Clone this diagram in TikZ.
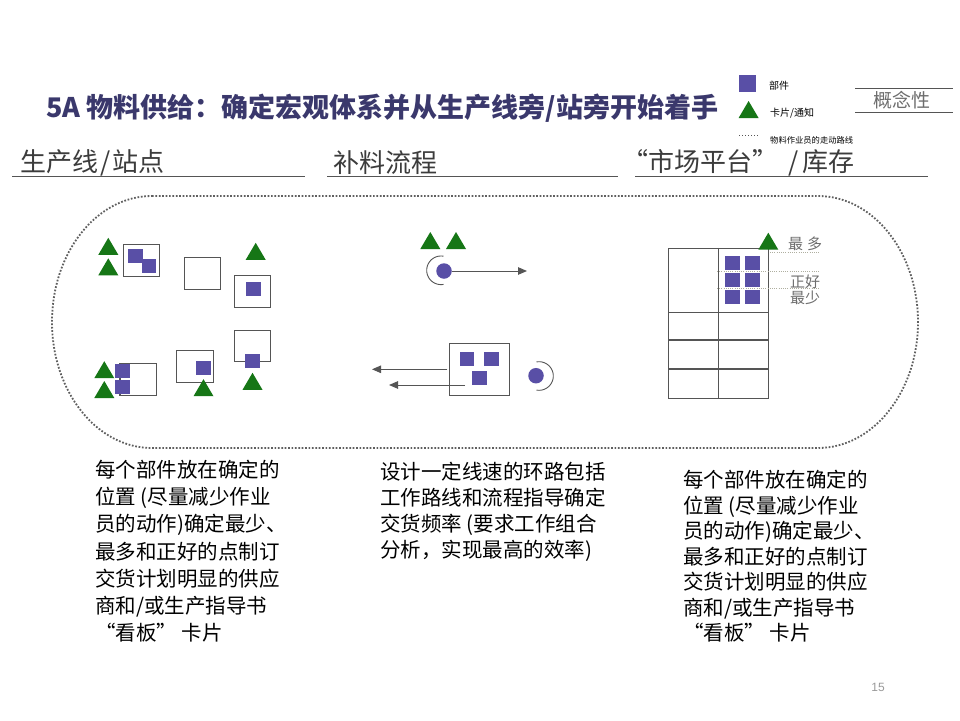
\documentclass[tikz,border=0pt]{standalone}
\usepackage{fontspec}
\setmainfont{Noto Sans CJK SC}
\newfontfamily\lsans{Liberation Sans}
\usetikzlibrary{arrows.meta}
\definecolor{partc}{RGB}{89,79,166}
\definecolor{tric}{RGB}{22,118,22}
\definecolor{linec}{RGB}{85,85,85}
\definecolor{titlec}{RGB}{58,56,108}
\definecolor{headc}{RGB}{60,60,60}
\definecolor{dotc}{RGB}{95,95,95}
\definecolor{guidec}{RGB}{175,175,160}
\definecolor{softc}{RGB}{110,110,110}
\begin{document}
\begin{tikzpicture}[x=1pt,y=-1pt,
  part/.style={fill=partc, draw=none, minimum width=14.5pt, minimum height=14pt, inner sep=0pt},
  sbox/.style={draw=linec, line width=1.1pt, fill=white, inner sep=0pt},
  tri/.pic={\fill[tric] (-10,8.5) -- (10,8.5) -- (0,-8.5) -- cycle;},
  disc/.style={circle, fill=partc, minimum size=15.5pt, inner sep=0pt},
  flow/.style={draw=linec, line width=1pt, -{Triangle[length=9pt,width=7.5pt]}},
  ret/.style={draw=linec, line width=0.9pt},
  head/.style={font=\fontsize{26}{30}\selectfont, text=headc, anchor=west, inner sep=0pt},
  uline/.style={draw=linec, line width=1pt},
  body/.style={anchor=north west, align=left, inner sep=0pt, text=black},
  lvl/.style={font=\fontsize{15}{17}\selectfont, text=softc, inner sep=0pt},
  guide/.style={draw=guidec, line width=0.7pt, dash pattern=on 1pt off 1.2pt},
  ]
\useasboundingbox (0,0) rectangle (960,720);
\fill[white] (0,0) rectangle (960,720);

% title
\node[anchor=west, inner sep=0pt, text=titlec, font=\fontsize{27}{32}\selectfont\bfseries] (title) at (46,108) {5A 物料供给：确定宏观体系并从生产线旁/站旁开始着手};

% legend
\node[part, minimum width=17pt, minimum height=17pt] (lgpart) at (747.3,83.8) {};
\node[anchor=west, inner sep=0pt, font=\fontsize{10}{12}\selectfont] (lgparttxt) at (769,86) {部件};
\pic at (748.6,109.5) {tri};
\node[anchor=west, inner sep=0pt, font=\fontsize{10}{12}\selectfont] (lgtritxt) at (770,113) {卡片/通知};
\coordinate (lgd1) at (739,135.7);
\coordinate (lgd2) at (758,135.7);
\draw[draw=linec, line width=1.4pt, dash pattern=on 1.4pt off 1.6pt] (lgd1) -- (lgd2);
\node[anchor=west, inner sep=0pt, font=\fontsize{8.3}{10}\selectfont] (lgdottxt) at (770,140) {物料作业员的走动路线};

% concept tag
\node[inner sep=0pt, text=softc, font=\fontsize{19}{22}\selectfont] (concept) at (902,100) {概念性};
\draw[draw=linec, line width=0.8pt] (855,88.3) -- (953,88.3);
\draw[draw=linec, line width=0.8pt] (855,112.3) -- (953,112.3);

% section headers
\node[head] (h1) at (20,163) {生产线\hspace{2pt}/\hspace{2pt}站点};
\node[head] (h2) at (333,163) {补料流程};
\node[head] (h3) at (622,163) {“市场平台”\hspace{10pt}/\hspace{4pt}库存};
\draw[uline] (12,176) -- (305,176);
\draw[uline] (327,176) -- (618,176);
\draw[uline] (635,176) -- (928,176);

% dotted enclosure (operator walking route)
\draw[draw=dotc, line width=1.8pt, dash pattern=on 1.7pt off 1.7pt]
  (152,196) -- (818,196)
  .. controls (873.2,196) and (918,252.4) .. (918,322)
  .. controls (918,391.6) and (873.2,448) .. (818,448)
  -- (152,448)
  .. controls (96.8,448) and (52,391.6) .. (52,322)
  .. controls (52,252.4) and (96.8,196) .. (152,196) -- cycle;

% ---- left panel: line side / stations
\node[sbox, minimum width=36pt, minimum height=32pt] (b1) at (141.3,260.3) {};
\node[sbox, minimum width=36.4pt, minimum height=32pt] (b2) at (202.5,273.3) {};
\node[sbox, minimum width=36.4pt, minimum height=32pt] (b3) at (252.5,291.3) {};
\node[sbox, minimum width=36.4pt, minimum height=31pt] (b4) at (252.5,345.8) {};
\node[sbox, minimum width=37.4pt, minimum height=32.4pt] (b5) at (195,366.5) {};
\node[sbox, minimum width=36.7pt, minimum height=32pt] (b6) at (138.3,379.3) {};
\node[part] (pa) at (135.5,256) {};
\node[part] (pb) at (148.8,266.3) {};
\node[part] (pc) at (253.5,289.3) {};
\node[part] (pd) at (252.5,361.3) {};
\node[part] (pe) at (203.5,368.3) {};
\node[part] (pf) at (122.5,371.3) {};
\node[part] (pg) at (122.5,387.3) {};
\pic at (108.3,246.3) {tri};
\pic at (108.3,266.8) {tri};
\pic at (255.7,251.3) {tri};
\pic at (252.5,381.3) {tri};
\pic at (203.5,387.7) {tri};
\pic at (104.3,369.7) {tri};
\pic at (104.3,389.5) {tri};

% ---- middle panel: replenishment flow
\pic at (430.3,240.5) {tri};
\pic at (456,240.5) {tri};
\node[disc] (c1) at (444,271) {};
\draw[ret] plot[domain=80:280, samples=40, smooth] ({441+14.3*cos(\x)},{270.3-14.3*sin(\x)});
\coordinate (a1e) at (527,271);
\draw[flow] (c1.east) -- (a1e);

\node[sbox, minimum width=60pt, minimum height=52pt] (mb) at (479.3,369.3) {};
\node[part] (m1) at (467,359.3) {};
\node[part] (m2) at (491.3,359.3) {};
\node[part] (m3) at (479.3,378.3) {};
\coordinate (a2s) at (447.3,369.3);
\coordinate (a2e) at (372,369.3);
\coordinate (a3s) at (465,385);
\coordinate (a3e) at (389,385);
\draw[flow] (a2s) -- (a2e);
\draw[flow] (a3s) -- (a3e);
\node[disc] (c2) at (536,375.7) {};
\draw[ret] plot[domain=-100:100, samples=40, smooth] ({539+14.3*cos(\x)},{376-14.3*sin(\x)});

% ---- right panel: market place / stock
\node[sbox, fill=none, minimum width=100pt, minimum height=150pt] (grid) at (718.3,323.3) {};
\draw[draw=linec, line width=1.1pt] (grid.north) -- (grid.south);
\draw[draw=linec, line width=1.1pt] (668.3,312.3) -- (768.3,312.3);
\draw[draw=linec, line width=1.1pt] (668.3,340) -- (768.3,340);
\draw[draw=linec, line width=1.1pt] (668.3,369) -- (768.3,369);
\node[part] (r11) at (732.5,263) {};
\node[part] (r12) at (752.5,263) {};
\node[part] (r21) at (732.5,280) {};
\node[part] (r22) at (752.5,280) {};
\node[part] (r31) at (732.5,297.2) {};
\node[part] (r32) at (752.5,297.2) {};
\draw[guide] (770,252.3) -- (820,252.3);
\draw[guide] (717,271) -- (820,271);
\draw[guide] (717,288.3) -- (820,288.3);
\pic at (768.3,241.2) {tri};
\node[lvl] (lmax) at (805,244) {最\hspace{4pt}多};
\node[lvl] (lok) at (805,281.5) {正好};
\node[lvl] (lmin) at (805,298) {最少};

% ---- descriptions
\node[body, font=\fontsize{20.5}{27.2}\selectfont] (t1) at (95,460) {每个部件放在确定的\\位置 (尽量减少作业\\员的动作)确定最少、\\最多和正好的点制订\\交货计划明显的供应\\商和/或生产指导书\\“看板” 卡片};
\node[body, font=\fontsize{20.5}{26}\selectfont] (t2) at (380,462) {设计一定线速的环路包括\\工作路线和流程指导确定\\交货频率 (要求工作组合\\分析，实现最高的效率)};
\node[body, font=\fontsize{20.5}{25.5}\selectfont] (t3) at (683,470) {每个部件放在确定的\\位置 (尽量减少作业\\员的动作)确定最少、\\最多和正好的点制订\\交货计划明显的供应\\商和/或生产指导书\\“看板” 卡片};

\node[inner sep=0pt, text=softc!70, font=\lsans\fontsize{12}{14}\selectfont] (pgno) at (878,687) {15};
\end{tikzpicture}
\end{document}
